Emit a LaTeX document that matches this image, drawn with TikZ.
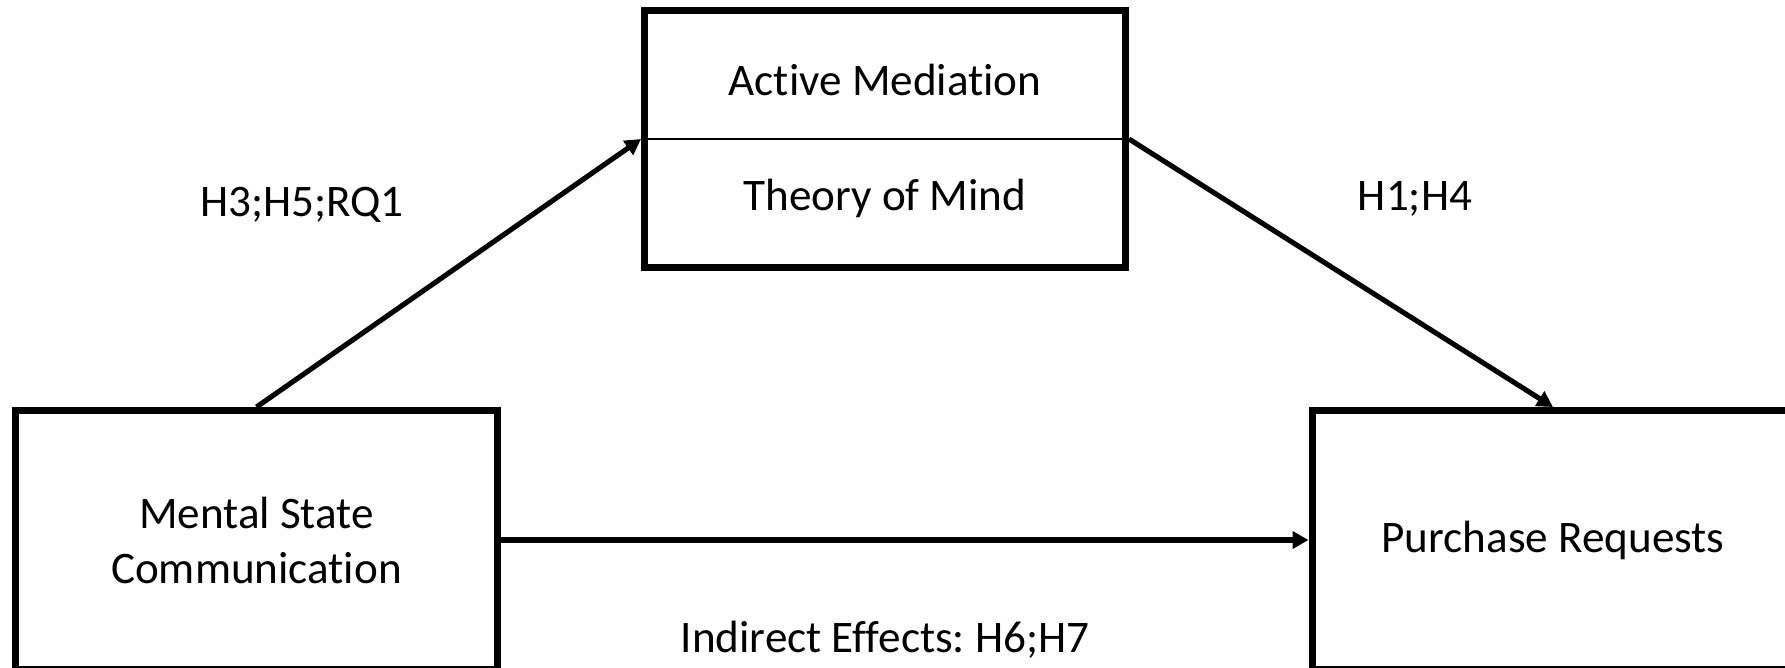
\documentclass[tikz,border=0pt]{standalone}
\usepackage{fontspec}
\setmainfont{Carlito}[Ligatures=NoCommon]
\frenchspacing
\usetikzlibrary{positioning,arrows.meta}

\begin{document}
\begin{tikzpicture}[
    x=0.02cm, y=-0.02cm,
    ->,
    >={Triangle[length=9pt,width=9.5pt]},
    line width=2.9pt,
    every node/.style={font=\fontsize{25.7}{31.3}\selectfont, align=center},
    box/.style={draw, line width=4pt, minimum width=9.64cm, minimum height=5.18cm},
    midbox/.style={box, minimum width=9.62cm, minimum height=5.14cm}
]
    \clip (0,0) rectangle (1785,667);
    \fill[white] (0,0) rectangle (1785,667);

    \node[box] (msc) at (256.5,540) {Mental State\\Communication};
    \node[box] (pr) at (1553,540) {Purchase Requests};
    \node[midbox] (am) at (885,139) {};
    \node (amtext) at (885,80) {Active Mediation};
    \node (tomtext) at (885,198) {Theory of Mind};
    \draw[-, line width=1.5pt] (am.west) -- (am.east);

    \node (lblA) at (302,205) {H3;H5;RQ1};
    \node (lblB) at (1415,199) {H1;H4};
    \node (lblC) at (885,640) {Indirect Effects: H6;H7};

    \draw (msc.north) -- (am.west);
    \draw (am.east) -- (pr.north);
    \draw (msc.east) -- (pr.west);
\end{tikzpicture}
\end{document}
